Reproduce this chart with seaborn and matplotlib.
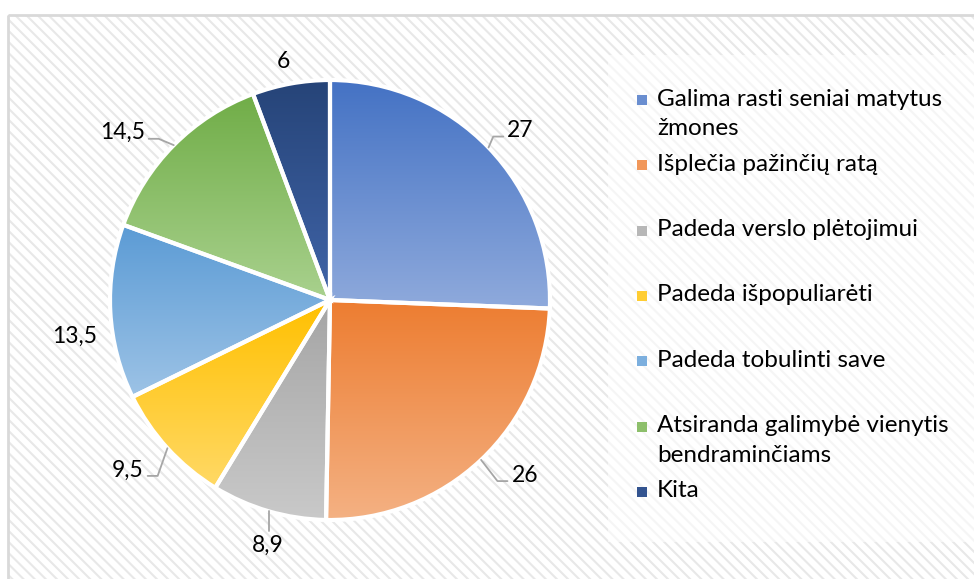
import numpy as np
import seaborn as sns
import matplotlib.pyplot as plt
from matplotlib.patches import Rectangle

sns.set_theme(style='white')
plt.rcParams['font.family'] = ['Lato', 'DejaVu Sans']
plt.rcParams['hatch.linewidth'] = 1.5

# data
categories = ['Galima rasti seniai matytus\nžmones', 'Išplečia pažinčių ratą',
              'Padeda verslo plėtojimui', 'Padeda išpopuliarėti',
              'Padeda tobulinti save', 'Atsiranda galimybė vienytis\nbendraminčiams', 'Kita']
values = [27, 26, 8.9, 9.5, 13.5, 14.5, 6]
top_colors = ['#4472C4', '#ED7D31', '#A5A5A5', '#FFC000', '#5B9BD5', '#70AD47', '#264478']
bottom_colors = ['#8FAADC', '#F4B183', '#C9C9C9', '#FFD966', '#9DC3E6', '#A9D18E', '#4064A8']

# label tweaks (pixels: right, down) and which labels get a leader line
label_nudge = [(5, 9), (18, -12), (10, -2), (-12, -3.5), (2, 23), (-25, 14), (-1, 15)]
has_leader = [True, True, True, True, False, True, False]

W, H = 974, 579
fig = plt.figure(figsize=(W / 100, H / 100), dpi=100)

# background layer in pixel coords (y down)
bg = fig.add_axes([0, 0, 1, 1], zorder=0)
bg.set_xlim(0, W)
bg.set_ylim(H, 0)
bg.axis('off')
bg.add_patch(Rectangle((8, 15), W, H, facecolor='white', edgecolor='#e8e8e8',
                       hatch='\\\\\\', linewidth=0))
bg.add_patch(Rectangle((8, 15), W, H, facecolor='none', edgecolor='#d9d9d9', linewidth=2))

# legend box
bg.add_patch(Rectangle((608, 55), 370, 487, facecolor='white', edgecolor='none', alpha=0.6))
slot0, step = 100, 65.3
for i, (lab, c1, c2) in enumerate(zip(categories, top_colors, bottom_colors)):
    cy = slot0 + i * step
    mid = sns.blend_palette([c1, c2], 3)[1]
    bg.add_patch(Rectangle((637, cy - 5), 10, 10, facecolor=mid, edgecolor='none'))
    bg.text(657, cy - 11.5, lab, fontsize=17.5, va='top', ha='left',
            color='black', linespacing=1.5)

# pie
ax = fig.add_axes([0, 15 / H, 660 / W, 528 / H], zorder=1)
ax.patch.set_visible(False)
wedges, _ = ax.pie(values, startangle=90, counterclock=False, radius=1,
                   wedgeprops=dict(linewidth=3, edgecolor='white'))
for w, c1, c2 in zip(wedges, top_colors, bottom_colors):
    ext = w.get_path().get_extents()
    cmap = sns.blend_palette([c2, c1], as_cmap=True)
    grad = np.linspace(1, 0, 256)[:, None]
    im = ax.imshow(grad, cmap=cmap, vmin=0, vmax=1, aspect='auto', origin='upper',
                   extent=[ext.x0, ext.x1, ext.y0, ext.y1], zorder=1, interpolation='bilinear')
    im.set_clip_path(w)
    w.set_facecolor('none')
    w.set_zorder(2)

ax.set_xlim(-1.5, 1.5)
ax.set_ylim(-1.2, 1.2)
ax.set_aspect('auto')
ax.axis('off')

# data labels
px = 220.0
total = sum(values)
cum = 0
texts = []
angles = []
for v, (dx, dy) in zip(values, label_nudge):
    mid = 90 - (cum + v / 2) / total * 360
    cum += v
    a = np.deg2rad(mid)
    angles.append(a)
    x = 1.17 * np.cos(a) + dx / px
    y = 1.17 * np.sin(a) - dy / px
    s = str(v).replace('.', ',') if v != int(v) else str(int(v))
    texts.append(ax.text(x, y, s, ha='center', va='center', fontsize=16.5, color='black'))

fig.canvas.draw()
inv = ax.transData.inverted()
for t, a, lead in zip(texts, angles, has_leader):
    if not lead:
        continue
    bb = t.get_window_extent()
    E = ax.transData.transform((np.cos(a), np.sin(a)))
    if abs(np.cos(a)) < 0.35:
        end = (E[0], bb.y1 + 4) if np.sin(a) < 0 else (E[0], bb.y0 - 4)
        pts = [E, end]
    else:
        side = np.sign(np.cos(a))
        ex = bb.x0 - 4 if side > 0 else bb.x1 + 4
        ey = (bb.y0 + bb.y1) / 2 - 6
        pts = [E, (ex - side * 10, ey), (ex, ey)]
    pts = inv.transform(np.array(pts))
    ax.plot(pts[:, 0], pts[:, 1], color='#a6a6a6', lw=1.3, zorder=3)

fig.savefig('out.png', dpi=100)
